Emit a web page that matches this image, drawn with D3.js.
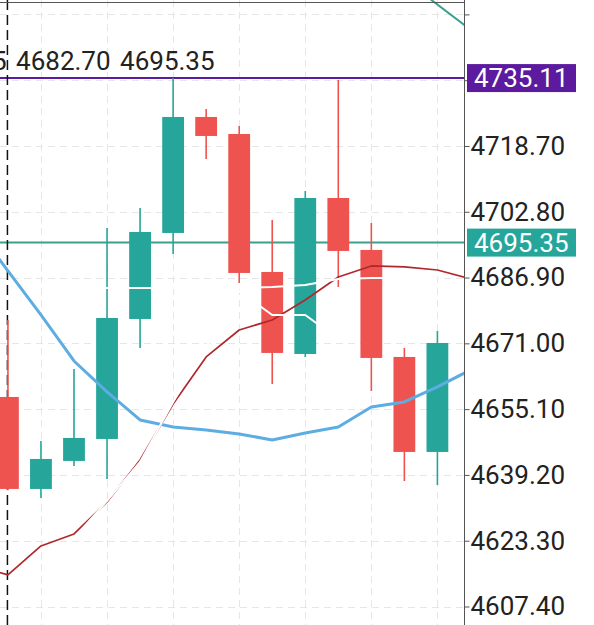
<!DOCTYPE html>
<html>
<head>
<meta charset="utf-8">
<script src="https://cdn.jsdelivr.net/npm/d3@7"></script>
<style>
  body { margin: 0; background: #fff; }
  svg { display: block; font-family: Roboto, 'Noto Sans', sans-serif; }
</style>
</head>
<body>
<div id="chart"></div>
<script>
// candles, index 0 is the one under the crosshair
const candleIndex = [0, 1, 2, 3, 4, 5, 6, 7, 8, 9, 10, 11, 12, 13];
const opens  = [4658.04, 4635.81, 4642.58, 4647.89, 4676.89, 4697.68, 4725.71, 4721.60, 4688.25, 4668.43, 4706.13, 4693.57, 4667.71, 4644.75];
const highs  = [4676.65, 4647.41, 4664.81, 4698.88, 4703.72, 4735.11, 4727.64, 4723.53, 4700.82, 4707.83, 4734.65, 4700.09, 4669.88, 4673.99];
const lows   = [4635.50, 4633.64, 4641.37, 4638.23, 4669.88, 4692.60, 4715.56, 4685.59, 4661.18, 4667.70, 4684.63, 4659.49, 4637.74, 4636.78];
const closes = [4635.81, 4643.06, 4648.14, 4677.13, 4697.92, 4725.71, 4721.12, 4688.01, 4668.68, 4706.13, 4693.33, 4667.47, 4644.75, 4671.09];

// moving averages
const maIndex = [-1, 0, 1, 2, 3, 4, 5, 6, 7, 8, 9, 10, 11, 12, 13, 14];
const maRed  = [4617.44, 4615.03, 4622.04, 4624.94, 4632.67, 4642.82, 4656.35, 4667.71, 4674.23, 4676.65, 4681.48, 4687.04, 4689.70, 4689.46, 4688.73, 4686.56];
const maBlue = [4699.37, 4688.49, 4677.86, 4666.74, 4659.25, 4652.49, 4650.79, 4650.07, 4649.10, 4647.65, 4649.34, 4650.79, 4655.63, 4656.83, 4660.46, 4664.57];

// white lines (only seen where they cross the candles)
const whiteAIndex = [2, 3, 4, 5, 6, 7, 8, 9, 10, 11, 12, 13];
const whiteA = [4684.38, 4684.38, 4684.38, 4684.38, 4684.38, 4684.38, 4684.62, 4685.11, 4686.56, 4686.80, 4686.80, 4686.80];
const whiteBIndex = [1, 2, 3, 4, 5, 6, 7, 8, 9, 10];
const whiteB = [4615.03, 4623.97, 4632.91, 4642.34, 4656.83, 4670.13, 4683.66, 4677.86, 4677.86, 4672.06];

// teal line in the top right corner
const trendIndex = [12, 14];
const trendValues = [4758.94, 4746.83];

const yTicks = [4607.40, 4623.30, 4639.20, 4655.10, 4671.00, 4686.90, 4702.80, 4718.70, 4734.60, 4750.50];
const gridIndex = [1, 3, 5, 7, 9, 11, 13];
const crosshairIndex = 0;
const highLevel = 4735.11;
const lastPrice = 4695.35;
const headerText = '5 4682.70 4695.35';

function mkModel() {
  let model = {
    width: 594,
    height: 625,
    plotRight: 464.5
  };
  model.x = d3.scaleLinear()
    .domain([-0.24, 13.82])
    .range([0, model.plotRight]);
  model.y = d3.scaleLinear()
    .domain([4607.40, 4750.50])
    .range([606.5, 14.4]);
  model.up = '#26a69a';
  model.down = '#ef5350';
  model.fontSize = 26;
  return model;
}

function grid(container, model) {
  var x = model.x, y = model.y;
  container.selectAll('#hgrid').data(yTicks)
    .join('line')
    .attr('id', 'hgrid')
    .attr('x1', 0)
    .attr('x2', model.plotRight)
    .attr('y1', (d) => Math.round(y(d)) + 0.5)
    .attr('y2', (d) => Math.round(y(d)) + 0.5)
    .attr('stroke', '#e6e6e6')
    .attr('stroke-dasharray', '7,5');

  container.selectAll('#vgrid').data(gridIndex)
    .join('line')
    .attr('id', 'vgrid')
    .attr('x1', (d) => Math.round(x(d)) + 0.5)
    .attr('x2', (d) => Math.round(x(d)) + 0.5)
    .attr('y1', 0)
    .attr('y2', model.height)
    .attr('stroke', '#e6e6e6')
    .attr('stroke-dasharray', '7,5');
}

function priceLines(container, model) {
  var y = model.y;
  container.selectAll('#priceLine').data([[highLevel, '#5c1a9e'], [lastPrice, '#3b9f8e']])
    .join('line')
    .attr('id', 'priceLine')
    .attr('x1', 0)
    .attr('x2', model.plotRight)
    .attr('y1', (d) => y(d[0]))
    .attr('y2', (d) => y(d[0]))
    .attr('stroke', (d) => d[1])
    .attr('stroke-width', 2);

  // crosshair
  container.selectAll('#crosshair').data([crosshairIndex])
    .join('line')
    .attr('id', 'crosshair')
    .attr('x1', (d) => model.x(d) - 0.5)
    .attr('x2', (d) => model.x(d) - 0.5)
    .attr('y1', 0)
    .attr('y2', model.height)
    .attr('stroke', '#111')
    .attr('stroke-width', 1.5)
    .attr('stroke-dasharray', '10,5');
}

function candles(container, model) {
  var x = model.x, y = model.y;
  var bodyWidth = (x(1) - x(0)) * 0.66;
  var data = candleIndex.map((d, i) => ({ i: d, o: opens[i], h: highs[i], l: lows[i], c: closes[i] }));
  var color = (d) => d.c >= d.o ? model.up : model.down;

  container.selectAll('#wick').data(data)
    .join('line')
    .attr('id', 'wick')
    .attr('x1', (d) => x(d.i))
    .attr('x2', (d) => x(d.i))
    .attr('y1', (d) => y(d.h))
    .attr('y2', (d) => y(d.l))
    .attr('stroke', color)
    .attr('stroke-width', 1.6);

  container.selectAll('#body').data(data)
    .join('rect')
    .attr('id', 'body')
    .attr('x', (d) => x(d.i) - bodyWidth / 2)
    .attr('width', bodyWidth)
    .attr('y', (d) => y(Math.max(d.o, d.c)))
    .attr('height', (d) => Math.abs(y(d.o) - y(d.c)))
    .attr('fill', color);
}

function lines(container, model) {
  var x = model.x, y = model.y;
  var line = d3.line().x((d) => x(d[0])).y((d) => y(d[1]));
  var series = [
    { pts: d3.zip(maIndex, maRed), color: '#b0282c', width: 1.7 },
    { pts: d3.zip(maIndex, maBlue), color: '#5dade2', width: 3 },
    { pts: d3.zip(whiteAIndex, whiteA), color: '#ffffff', width: 2 },
    { pts: d3.zip(whiteBIndex, whiteB), color: '#ffffff', width: 2 },
    { pts: d3.zip(trendIndex, trendValues), color: '#3b9f8e', width: 2 }
  ];
  container.selectAll('#series').data(series)
    .join('path')
    .attr('id', 'series')
    .attr('d', (d) => line(d.pts))
    .attr('fill', 'none')
    .attr('stroke', (d) => d.color)
    .attr('stroke-width', (d) => d.width)
    .attr('stroke-linejoin', 'round');
}

function axis(container, model) {
  var y = model.y;
  var covered = (d) => y(d) < 30 || Math.abs(y(d) - y(highLevel)) < 16 || Math.abs(y(d) - y(lastPrice)) < 16;

  container.selectAll('#axisLine').data([model.plotRight])
    .join('line')
    .attr('id', 'axisLine')
    .attr('x1', (d) => d)
    .attr('x2', (d) => d)
    .attr('y1', 0)
    .attr('y2', model.height)
    .attr('stroke', '#555');

  container.selectAll('#topLine').data([2.5])
    .join('line')
    .attr('id', 'topLine')
    .attr('x1', 0)
    .attr('x2', model.plotRight)
    .attr('y1', (d) => d)
    .attr('y2', (d) => d)
    .attr('stroke', '#555');

  var g = container.selectAll('#axis').data([1])
    .join('g')
    .attr('id', 'axis')
    .attr('transform', 'translate(' + model.plotRight + ',0)')
    .call(d3.axisRight(y)
      .tickValues(yTicks)
      .tickSize(5)
      .tickPadding(1)
      .tickFormat((d) => covered(d) ? '' : d3.format('.2f')(d)));
  g.select('.domain').remove();
  g.selectAll('.tick line').attr('stroke', '#555');
  g.selectAll('.tick text')
    .attr('fill', '#222')
    .attr('font-size', model.fontSize)
    .attr('font-family', 'Roboto, sans-serif');

  // price labels
  var labels = container.selectAll('#priceLabel').data([[highLevel, '#5c1a9e'], [lastPrice, '#26a69a']])
    .join('g')
    .attr('id', 'priceLabel')
    .attr('transform', (d) => 'translate(467,' + y(d[0]) + ')');
  labels.selectAll('rect').data((d) => [d])
    .join('rect')
    .attr('x', 0)
    .attr('y', -14)
    .attr('width', 109)
    .attr('height', 28)
    .attr('fill', (d) => d[1]);
  labels.selectAll('text').data((d) => [d])
    .join('text')
    .attr('x', 7)
    .attr('y', 0)
    .attr('dy', '0.35em')
    .attr('fill', '#fff')
    .attr('font-size', model.fontSize)
    .text((d) => d3.format('.2f')(d[0]));

  // header with the values of the crosshair candle, cut at the left edge
  container.selectAll('#header').data([headerText])
    .join('text')
    .attr('id', 'header')
    .attr('x', -8)
    .attr('y', 70)
    .attr('fill', '#222')
    .attr('font-size', model.fontSize)
    .attr('word-spacing', 3)
    .text((d) => d);
}

function main() {
  var model = mkModel();
  var svg = d3.select('#chart').append('svg')
    .attr('width', model.width)
    .attr('height', model.height);
  svg.append('rect').attr('width', model.width).attr('height', model.height).attr('fill', '#fff');

  svg.append('clipPath').attr('id', 'plotClip')
    .append('rect')
    .attr('x', 0).attr('y', 0)
    .attr('width', model.plotRight).attr('height', model.height);

  var plot = svg.append('g').attr('clip-path', 'url(#plotClip)');
  grid(plot.append('g'), model);
  priceLines(plot.append('g'), model);
  candles(plot.append('g'), model);
  lines(plot.append('g'), model);
  axis(svg.append('g'), model);
}

main();
</script>
</body>
</html>
